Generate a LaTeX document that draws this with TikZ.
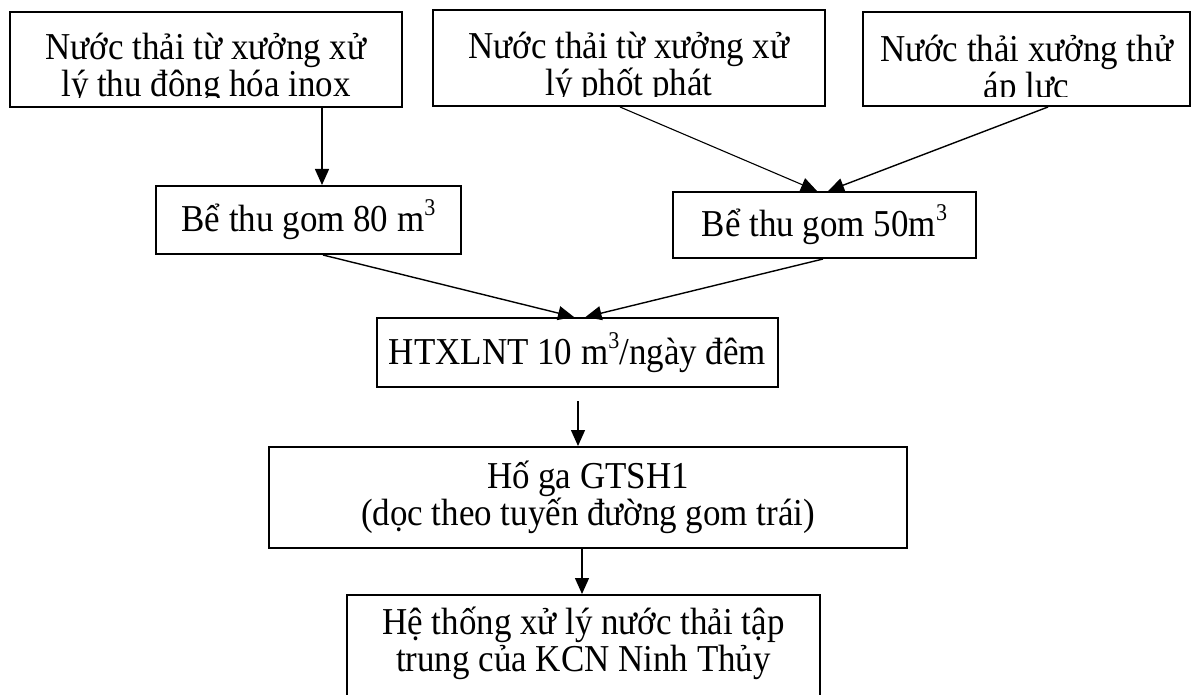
\documentclass[tikz,border=0pt]{standalone}
\usepackage{fontspec}
\setmainfont{Liberation Serif}[FakeStretch=0.92]
\usetikzlibrary{arrows.meta}
\newcommand{\cube}{\raisebox{0.42em}{\fontsize{24}{24}\selectfont 3}}
\begin{document}
\begin{tikzpicture}[x=1pt, y=-1pt,
  font=\fontsize{38}{37}\selectfont,
  box/.style={draw, line width=2pt, inner sep=0pt, align=center},
  % box whose text is cut off a little above its bottom border
  clipped/.style 2 args={box, path picture={
      \clip ([yshift=9pt]path picture bounding box.south west)
        rectangle (path picture bounding box.north east);
      \node[align=center, inner sep=0pt]
        at ([yshift=-#1pt]path picture bounding box.north) {#2};}},
  arr/.style={line width=1.4pt, -{Triangle[length=16pt, width=14pt]}},
  thin/.style={line width=1.1pt}]
  \clip (0,0) rectangle (1193,695);

  % sources
  \node[clipped={56.5}{Nước thải từ xưởng xử\\lý thu đông hóa inox},
        minimum width=392pt, minimum height=95pt] (s1) at (206,59.5) {};
  \node[clipped={57.5}{Nước thải từ xưởng xử\\lý phốt phát},
        minimum width=392pt, minimum height=96pt] (s2) at (629,58) {};
  \node[clipped={58.5}{Nước thải xưởng thử\\áp lực},
        minimum width=327pt, minimum height=94pt] (s3) at (1026.5,59) {};

  % collection tanks
  \node[box, minimum width=305pt, minimum height=68pt] (b80) at (308.5,220)
    {Bể thu gom 80 m\cube};
  \node[box, minimum width=303pt, minimum height=66pt] (b50) at (824.5,225)
    {Bể thu gom 50m\cube};

  % treatment plant
  \node[box, minimum width=401pt, minimum height=69pt] (htx) at (577.5,352.5)
    {HTXLNT 10 m\cube/ngày đêm};

  % manhole
  \node[box, minimum width=638pt, minimum height=101pt] (hoga) at (588,497.5)
    {Hố ga GTSH1\\(dọc theo tuyến đường gom trái)};

  % central treatment system
  \node[clipped={48.5}{Hệ thống xử lý nước thải tập\\trung của KCN Ninh Thủy},
        minimum width=473pt, minimum height=130pt] (ktt) at (583.5,660) {};

  % flows
  \draw[arr] ([xshift=116pt]s1.south) -- ([xshift=13.5pt]b80.north);
  \draw[arr, thin] ([xshift=-9pt]s2.south) -- ([xshift=-7.5pt]b50.north);
  \draw[arr] ([xshift=21.5pt]s3.south) -- ([xshift=3.5pt]b50.north);
  \draw[arr] ([xshift=14.5pt]b80.south) -- ([xshift=-3.5pt]htx.north);
  \draw[arr] ([xshift=-1.5pt]b50.south) -- ([xshift=8pt]htx.north);
  \draw[arr, shorten <=13pt] ([xshift=0.5pt]htx.south) -- ([xshift=-10pt]hoga.north);
  \draw[arr] ([xshift=-6pt]hoga.south) -- ([xshift=-1.5pt]ktt.north);
\end{tikzpicture}
\end{document}
